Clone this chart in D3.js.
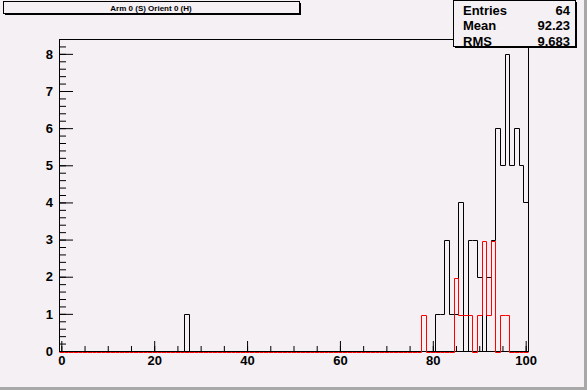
<!DOCTYPE html>
<html lang="en">
<head>
<meta charset="UTF-8">
<title>Arm 0 (S) Orient 0 (H)</title>
<script src="https://d3js.org/d3.v7.min.js"></script>
<style>
  body { margin: 0; background: #f4f0f4; }
  svg { display: block; }
  text { font-family: "Liberation Sans", Arial, sans-serif; font-weight: bold; }
</style>
</head>
<body>
<script>
// histogram contents (bins are centred on integers)
var blackBins   = [27, 81, 82, 83, 84, 85, 86, 88, 89, 90, 92, 93, 94, 95, 96, 97, 98, 99, 100];
var blackCounts = [ 1,  1,  1,  3,  1,  1,  4,  3,  3,  2,  2,  3,  6,  5,  8,  5,  6,  5,   4];
var redBins     = [78, 85, 86, 87, 88, 90, 91, 92, 93, 95, 96];
var redCounts   = [ 1,  2,  1,  1,  1,  1,  3,  1,  3,  1,  1];

var xTicks = [0, 20, 40, 60, 80, 100];
var yTicks = [0, 1, 2, 3, 4, 5, 6, 7, 8];

var title = "Arm 0 (S) Orient 0 (H)";
var statLabels = ["Entries", "Mean", "RMS"];
var statValues = ["64", "92.23", "9.683"];

var width = 587, height = 390;
var frame = {left: 59, right: 528, top: 39, bottom: 351};
var bg = "#f4f0f4";

var svg = d3.select("body").append("svg")
    .attr("width", width)
    .attr("height", height);

// canvas border
svg.append("rect").attr("x", width - 3).attr("y", 0).attr("width", 3).attr("height", height).attr("fill", "#a8a8a8");
svg.append("rect").attr("x", 0).attr("y", height - 3).attr("width", width).attr("height", 3).attr("fill", "#a8a8a8");

var x = d3.scaleLinear().domain([-0.5, 100.5]).range([frame.left, frame.right]);
var y = d3.scaleLinear().domain([0, 8.4]).range([frame.bottom, frame.top]);

// frame
svg.append("rect")
    .attr("x", frame.left + 0.5).attr("y", frame.top + 0.5)
    .attr("width", frame.right - frame.left).attr("height", frame.bottom - frame.top)
    .attr("fill", "none").attr("stroke", "black");

function stepPoints(bins, counts) {
    var lookup = new Map(bins.map(function (b, i) { return [b, counts[i]]; }));
    var pts = [{x: -0.5, n: 0}];
    for (var b = 0; b <= 100; b++) {
        pts.push({x: b - 0.5, n: lookup.get(b) || 0});
    }
    pts.push({x: 100.5, n: lookup.get(100) || 0});
    pts.push({x: 100.5, n: 0});
    return pts;
}

var line = d3.line()
    .x(function (d) { return Math.round(x(d.x)) + 0.5; })
    .y(function (d) { return Math.round(y(d.n)) + 0.5; })
    .curve(d3.curveStepAfter);

svg.append("path")
    .datum(stepPoints(blackBins, blackCounts))
    .attr("d", line)
    .attr("fill", "none")
    .attr("stroke", "black");

svg.append("path")
    .datum(stepPoints(redBins, redCounts))
    .attr("d", line)
    .attr("transform", "translate(0,1)")
    .attr("fill", "none")
    .attr("stroke", "red");

// x axis: minor then major ticks pointing into the frame
var xMinor = d3.axisBottom(x).tickValues(d3.range(0, 101, 5)).tickSize(-5).tickFormat("");
var xMajor = d3.axisBottom(x).tickValues(xTicks).tickSize(-10).tickPadding(5);
[xMinor, xMajor].forEach(function (ax) {
    var g = svg.append("g")
        .attr("transform", "translate(0," + frame.bottom + ")")
        .call(ax);
    g.select(".domain").remove();
    g.selectAll("line").attr("stroke", "black");
    g.selectAll("text").attr("font-size", 13).attr("fill", "black")
        .attr("font-family", "Liberation Sans, Arial, sans-serif");
});

// y axis
var yMinor = d3.axisLeft(y).tickValues(d3.range(0, 8.41, 0.2)).tickSize(-7).tickFormat("");
var yMajor = d3.axisLeft(y).tickValues(yTicks).tickSize(-14).tickPadding(6);
[yMinor, yMajor].forEach(function (ax) {
    var g = svg.append("g")
        .attr("transform", "translate(" + frame.left + ",0)")
        .call(ax);
    g.select(".domain").remove();
    g.selectAll("line").attr("stroke", "black");
    g.selectAll("text").attr("font-size", 13).attr("fill", "black")
        .attr("font-family", "Liberation Sans, Arial, sans-serif");
});

// boxes with drop shadow
function pave(x0, y0, w, h) {
    svg.append("rect").attr("x", x0 + 2).attr("y", y0 + 2).attr("width", w).attr("height", h).attr("fill", "black");
    svg.append("rect").attr("x", x0 + 0.5).attr("y", y0 + 0.5).attr("width", w).attr("height", h)
        .attr("fill", bg).attr("stroke", "black");
}

pave(3, 1, 296, 12);
svg.append("text")
    .attr("x", 151).attr("y", 10.5)
    .attr("text-anchor", "middle")
    .attr("font-size", 8)
    .text(title);

pave(453, 0, 122, 46);
var rows = svg.append("g").selectAll("g")
    .data(statLabels)
    .enter().append("g")
    .attr("transform", function (d, i) { return "translate(0," + (14.5 + i * 15.5) + ")"; });
rows.append("text")
    .attr("x", 463)
    .attr("font-size", 13)
    .text(function (d) { return d; });
rows.append("text")
    .attr("x", 570)
    .attr("text-anchor", "end")
    .attr("font-size", 13)
    .text(function (d, i) { return statValues[i]; });
</script>
</body>
</html>
